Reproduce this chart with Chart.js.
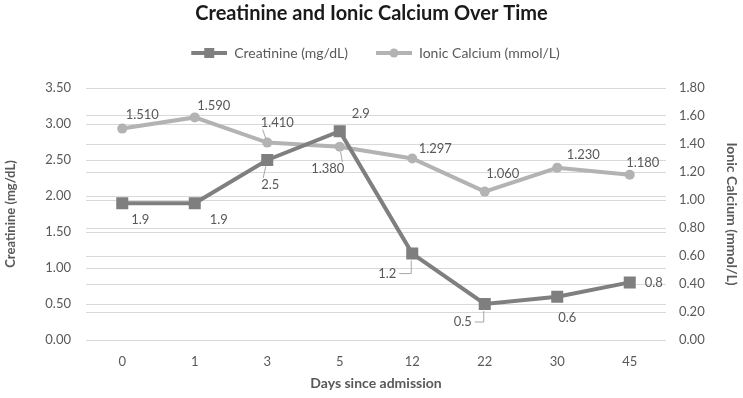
<!DOCTYPE html>
<html>
<head>
<meta charset="utf-8">
<script src="https://cdn.jsdelivr.net/npm/chart.js@4"></script>
<style>
  html, body { margin: 0; padding: 0; background: #ffffff; }
  #wrap { width: 743px; height: 398px; }
</style>
</head>
<body>
<div id="wrap"><canvas id="c" width="743" height="398"></canvas></div>
<script>
// ---- data ----
const days = ['0', '1', '3', '5', '12', '22', '30', '45'];
const creatinine = [1.9, 1.9, 2.5, 2.9, 1.2, 0.5, 0.6, 0.8];
const ionicCalcium = [1.510, 1.590, 1.410, 1.380, 1.297, 1.060, 1.230, 1.180];
const creatinineLabels = ['1.9', '1.9', '2.5', '2.9', '1.2', '0.5', '0.6', '0.8'];
const calciumLabels = ['1.510', '1.590', '1.410', '1.380', '1.297', '1.060', '1.230', '1.180'];

// ---- label placement (style) ----
const creatinineLabelOffsets = [[18,17],[24,17],[3,25],[21,-17],[-25,20],[-22,18],[10,21],[24,0]];
const creatinineLeaders = [null, null, 'straight', null, 'elbow', 'elbow', null, null];
const calciumLabelOffsets = [[20,-14],[19,-12],[10,-20],[-12,22],[23,-10],[18,-18],[26,-13],[13,-12]];
const calciumLeaders = [null, null, 'straight', 'straight', null, null, null, null];

const FONT = 'Lato, "Liberation Sans", sans-serif';
const TEXT = '#595959';
const CREA = '#7f7f7f';
const CALC = '#b3b3b3';
const GRID = '#d9d9d9';

function legendIcon(color, shape) {
  const cv = document.createElement('canvas');
  cv.width = 44; cv.height = 12;
  const g = cv.getContext('2d');
  g.strokeStyle = color; g.lineWidth = 4;
  g.beginPath(); g.moveTo(8, 6); g.lineTo(44, 6); g.stroke();
  g.fillStyle = color;
  if (shape === 'rect') { g.fillRect(21, 1, 10, 10); }
  else { g.beginPath(); g.arc(26, 6, 4.5, 0, Math.PI * 2); g.fill(); }
  return cv;
}
const iconCrea = legendIcon(CREA, 'rect');
const iconCalc = legendIcon(CALC, 'circle');

const legendSpacer = {
  id: 'legendSpacer',
  beforeInit(chart) {
    const lg = chart.legend;
    if (!lg) return;
    const origFit = lg.fit;
    lg.fit = function () {
      origFit.call(this);
      this.height = 62;
    };
  }
};

const labelPlugin = {
  id: 'pointLabels',
  afterDatasetsDraw(chart) {
    const ctx = chart.ctx;
    const sets = [
      { meta: chart.getDatasetMeta(0), texts: creatinineLabels, offs: creatinineLabelOffsets, leaders: creatinineLeaders },
      { meta: chart.getDatasetMeta(1), texts: calciumLabels, offs: calciumLabelOffsets, leaders: calciumLeaders }
    ];
    ctx.save();
    ctx.font = '13px ' + FONT;
    ctx.textAlign = 'center';
    ctx.textBaseline = 'middle';
    sets.forEach(s => {
      s.meta.data.forEach((pt, i) => {
        const [dx, dy] = s.offs[i];
        const lx = pt.x + dx, ly = pt.y + dy;
        const tw = ctx.measureText(s.texts[i]).width;
        const lead = s.leaders[i];
        if (lead) {
          ctx.strokeStyle = '#a6a6a6';
          ctx.lineWidth = 1;
          ctx.beginPath();
          if (lead === 'elbow') {
            ctx.moveTo(lx + tw / 2 + 3, ly);
            ctx.lineTo(pt.x - 1, ly);
            ctx.lineTo(pt.x - 1, pt.y + 7);
          } else {
            const sx = dx > 0 ? lx - tw / 2 + 2 : lx + tw / 2 - 2;
            const sy = dy > 0 ? ly - 7 : ly + 7;
            ctx.moveTo(sx, sy);
            ctx.lineTo(pt.x + (sx - pt.x) * 0.35, pt.y + (sy - pt.y) * 0.35);
          }
          ctx.stroke();
        }
        ctx.fillStyle = TEXT;
        ctx.fillText(s.texts[i], lx, ly);
      });
    });
    ctx.restore();
  }
};

new Chart(document.getElementById('c'), {
  type: 'line',
  data: {
    labels: days,
    datasets: [
      {
        label: 'Creatinine (mg/dL)',
        data: creatinine,
        yAxisID: 'y',
        borderColor: CREA,
        backgroundColor: CREA,
        borderWidth: 4,
        pointStyle: 'rect',
        pointRadius: 8.5,
        pointHoverRadius: 8.5,
        pointBackgroundColor: CREA,
        pointBorderWidth: 0,
        tension: 0
      },
      {
        label: 'Ionic Calcium (mmol/L)',
        data: ionicCalcium,
        yAxisID: 'y1',
        borderColor: CALC,
        backgroundColor: CALC,
        borderWidth: 4,
        pointStyle: 'circle',
        pointRadius: 5,
        pointHoverRadius: 5,
        pointBackgroundColor: CALC,
        pointBorderWidth: 0,
        tension: 0
      }
    ]
  },
  options: {
    responsive: false,
    animation: false,
    layout: { padding: { left: 0, right: 0, top: 0, bottom: 0 } },
    plugins: {
      title: {
        display: true,
        text: 'Creatinine and Ionic Calcium Over Time',
        color: '#1a1a1a',
        font: { family: FONT, size: 20, weight: 'bold', lineHeight: 1.2 },
        padding: { top: 2, bottom: 0 }
      },
      legend: {
        display: true,
        position: 'top',
        labels: {
          usePointStyle: true,
          pointStyleWidth: 44,
          color: TEXT,
          font: { family: FONT, size: 14 },
          padding: 20,
          generateLabels(chart) {
            return chart.data.datasets.map((d, i) => ({
              text: d.label,
              fillStyle: d.borderColor,
              strokeStyle: d.borderColor,
              fontColor: TEXT,
              pointStyle: i === 0 ? iconCrea : iconCalc,
              datasetIndex: i,
              hidden: false,
              lineWidth: 0
            }));
          }
        }
      },
      tooltip: { enabled: false }
    },
    scales: {
      x: {
        offset: true,
        grid: { display: false, drawTicks: false },
        border: { display: false },
        ticks: { color: TEXT, font: { family: FONT, size: 13 }, padding: 14 },
        title: { display: true, text: 'Days since admission', color: TEXT, font: { family: FONT, size: 14, weight: 'bold' }, padding: { top: 4, bottom: 6 } },
        afterFit(s) { s.height = 58; }
      },
      y: {
        position: 'left',
        min: 0, max: 3.5,
        ticks: { stepSize: 0.5, color: TEXT, font: { family: FONT, size: 13 }, padding: 15, callback: v => v.toFixed(2) },
        grid: { color: GRID, lineWidth: 1, drawTicks: false },
        border: { display: false },
        title: { display: true, text: 'Creatinine (mg/dL)', color: TEXT, font: { family: FONT, size: 13, weight: 'bold' }, padding: { top: 3, bottom: 4 } },
        afterFit(s) { s.width = 86; }
      },
      y1: {
        position: 'right',
        min: 0, max: 1.8,
        ticks: { stepSize: 0.2, color: TEXT, font: { family: FONT, size: 13 }, padding: 13, callback: v => v.toFixed(2) },
        grid: { color: GRID, lineWidth: 1, drawTicks: false },
        border: { display: false },
        title: { display: true, text: 'Ionic Calcium (mmol/L)', color: TEXT, font: { family: FONT, size: 14, weight: 'bold' }, padding: { top: 3, bottom: 4 } },
        afterFit(s) { s.width = 77; }
      }
    }
  },
  plugins: [legendSpacer, labelPlugin]
});
</script>
</body>
</html>
